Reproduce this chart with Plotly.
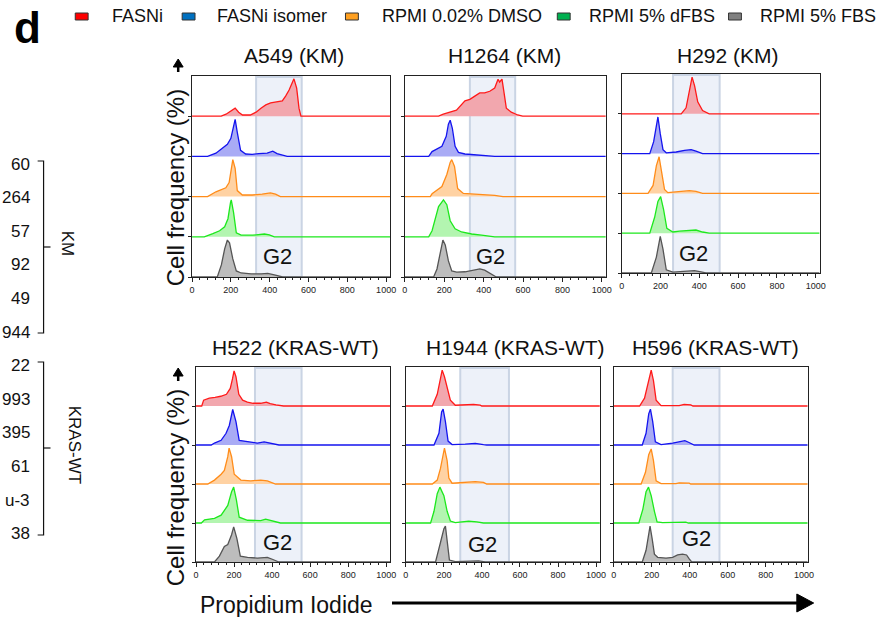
import plotly.graph_objects as go

W, H = 884, 617

# ---------------- data ----------------
conditions = ["FASNi", "FASNi isomer", "RPMI 0.02% DMSO", "RPMI 5% dFBS", "RPMI 5% FBS"]
line_colors = ["#ff1a1a", "#1414ee", "#ff8c1a", "#1de81d", "#555555"]
fill_colors = ["#f2a7ae", "#a9abf5", "#ffd2a3", "#b3f5b0", "#bdbdbd"]
legend_colors = ["#ff0000", "#0070c0", "#ffa020", "#00b050", "#808080"]
panel_titles = ["A549 (KM)", "H1264 (KM)", "H292 (KM)",
                "H522 (KRAS-WT)", "H1944 (KRAS-WT)", "H596 (KRAS-WT)"]
x_ticks = [0, 200, 400, 600, 800, 1000]
g2_gates = [(330, 565), (330, 560), (265, 505), (310, 555), (286, 542), (310, 556)]
g2_label_pos = [(441, 0.5), (437, 0.52), (368, 0.48), (428, 0.49), (402, 0.45), (435, 0.59)]
left_labels = ["60", "264", "57", "92", "49", "944", "22", "993", "395", "61", "u-3", "38"]
group_labels = ["KM", "KRAS-WT"]

# histogram curves: (PI intensity, relative cell frequency)
A549_FASNi = ([150, 175, 200, 222, 240, 260, 300, 330, 355, 380, 405, 430, 465, 482, 500, 515, 525, 539, 551, 561],
              [0, 0.05, 0.12, 0.2, 0.1, 0.03, 0.03, 0.1, 0.2, 0.28, 0.33, 0.35, 0.38, 0.5, 0.65, 0.82, 0.93, 0.7, 0.2, 0])
A549_isomer = ([80, 123, 157, 182, 200, 210, 217, 222, 233, 250, 276, 310, 344, 387, 416, 438, 490],
               [0, 0.08, 0.2, 0.3, 0.45, 0.65, 0.85, 0.92, 0.6, 0.15, 0.06, 0.05, 0.07, 0.08, 0.13, 0.07, 0])
A549_DMSO = ([80, 123, 149, 174, 191, 203, 210, 222, 233, 259, 310, 361, 404, 430, 455],
             [0, 0.12, 0.18, 0.22, 0.35, 0.75, 0.92, 0.7, 0.15, 0.04, 0.04, 0.06, 0.09, 0.06, 0])
A549_dFBS = ([63, 107, 142, 168, 185, 198, 202, 214, 228, 253, 313, 373, 398, 424],
             [0, 0.08, 0.15, 0.25, 0.45, 0.85, 0.92, 0.6, 0.1, 0.04, 0.04, 0.07, 0.05, 0])
A549_FBS = ([130, 151, 168, 182, 193, 210, 228, 253, 304, 356, 390, 424, 467],
            [0, 0.3, 0.7, 0.92, 0.85, 0.45, 0.15, 0.1, 0.08, 0.08, 0.09, 0.05, 0])

H1264_FASNi = ([171, 195, 228, 262, 305, 330, 355, 380, 405, 431, 456, 473, 481, 493, 503, 515, 540, 573, 598],
               [0, 0.05, 0.1, 0.15, 0.38, 0.42, 0.5, 0.58, 0.58, 0.62, 0.7, 0.92, 0.85, 0.92, 0.6, 0.2, 0.1, 0.03, 0])
H1264_isomer = ([121, 138, 163, 188, 210, 221, 230, 241, 255, 272, 305, 355, 405, 456],
                [0, 0.12, 0.18, 0.25, 0.5, 0.8, 0.9, 0.7, 0.25, 0.1, 0.06, 0.04, 0.02, 0])
H1264_DMSO = ([129, 138, 163, 188, 213, 230, 238, 252, 268, 297, 355, 405, 456, 498],
              [0, 0.07, 0.15, 0.25, 0.55, 0.85, 0.92, 0.75, 0.2, 0.08, 0.06, 0.05, 0.03, 0])
H1264_dFBS = ([121, 138, 154, 171, 196, 213, 230, 255, 288, 339, 389, 456],
              [0, 0.15, 0.45, 0.75, 0.92, 0.8, 0.4, 0.2, 0.12, 0.07, 0.04, 0])
H1264_FBS = ([146, 163, 180, 193, 205, 221, 238, 263, 305, 347, 381, 405, 439, 464],
             [0, 0.2, 0.6, 0.92, 0.8, 0.4, 0.15, 0.12, 0.13, 0.17, 0.2, 0.17, 0.06, 0])

H292_FASNi = ([307, 332, 349, 363, 376, 392, 417, 451],
              [0, 0.15, 0.55, 0.92, 0.7, 0.3, 0.08, 0])
H292_isomer = ([145, 165, 179, 187, 199, 213, 230, 281, 324, 358, 383, 417],
               [0, 0.3, 0.75, 0.92, 0.5, 0.1, 0.02, 0.04, 0.08, 0.1, 0.06, 0])
H292_DMSO = ([136, 162, 179, 193, 204, 221, 238, 298, 349, 383, 417],
             [0, 0.2, 0.7, 0.92, 0.6, 0.1, 0.02, 0.05, 0.07, 0.05, 0])
H292_dFBS = ([145, 170, 187, 201, 216, 233, 264, 298, 341, 383, 417, 451],
             [0, 0.4, 0.8, 0.92, 0.6, 0.12, 0.03, 0.05, 0.06, 0.08, 0.03, 0])
H292_FBS = ([153, 179, 193, 199, 213, 230, 264, 315, 375, 409, 434],
            [0, 0.4, 0.85, 0.92, 0.6, 0.08, 0.02, 0.04, 0.06, 0.03, 0])

H522_FASNi = ([30, 40, 70, 100, 130, 160, 180, 192, 200, 210, 225, 245, 270, 300, 340, 370, 390, 420, 460],
              [0, 0.15, 0.2, 0.22, 0.25, 0.3, 0.45, 0.7, 0.9, 0.75, 0.3, 0.15, 0.1, 0.07, 0.07, 0.1, 0.06, 0.03, 0])
H522_isomer = ([80, 97, 132, 158, 175, 193, 210, 227, 271, 323, 358, 392, 436],
               [0, 0.05, 0.12, 0.3, 0.5, 0.91, 0.6, 0.12, 0.08, 0.05, 0.08, 0.05, 0])
H522_DMSO = ([62, 97, 132, 149, 167, 174, 187, 201, 236, 288, 340, 375, 418],
             [0, 0.1, 0.25, 0.35, 0.7, 0.92, 0.7, 0.25, 0.1, 0.08, 0.1, 0.08, 0])
H522_dFBS = ([28, 45, 97, 132, 167, 187, 198, 212, 227, 271, 340, 366, 401, 444],
             [0, 0.08, 0.12, 0.2, 0.45, 0.8, 0.92, 0.6, 0.15, 0.07, 0.06, 0.1, 0.05, 0])
H522_FBS = ([97, 123, 149, 167, 187, 198, 215, 233, 271, 323, 375, 401, 436],
            [0, 0.15, 0.4, 0.45, 0.7, 0.9, 0.6, 0.15, 0.12, 0.1, 0.12, 0.07, 0])

H1944_FASNi = ([139, 165, 182, 191, 203, 217, 234, 260, 312, 356, 391, 399],
               [0, 0.3, 0.75, 0.92, 0.75, 0.45, 0.15, 0.02, 0.03, 0.04, 0.02, 0])
H1944_isomer = ([148, 174, 188, 196, 208, 222, 243, 312, 365, 408, 425],
                [0, 0.3, 0.85, 0.92, 0.6, 0.1, 0.01, 0.02, 0.04, 0.01, 0])
H1944_DMSO = ([139, 165, 182, 196, 203, 217, 226, 243, 286, 365, 408, 425],
              [0, 0.1, 0.4, 0.75, 0.92, 0.6, 0.15, 0.02, 0.03, 0.06, 0.04, 0])
H1944_dFBS = ([130, 148, 165, 179, 200, 217, 234, 260, 295, 330, 373, 408],
              [0, 0.3, 0.75, 0.92, 0.7, 0.3, 0.05, 0.01, 0.03, 0.05, 0.03, 0])
H1944_FBS = ([156, 182, 200, 208, 220, 229, 260, 330, 382, 408, 417],
             [0, 0.5, 0.85, 0.92, 0.5, 0.05, 0.01, 0.03, 0.03, 0.01, 0])

H596_FASNi = ([136, 162, 184, 197, 209, 223, 249, 344, 370, 405, 417],
              [0, 0.2, 0.7, 0.92, 0.65, 0.15, 0.01, 0.01, 0.04, 0.03, 0])
H596_isomer = ([150, 170, 184, 193, 205, 219, 249, 310, 353, 374, 393, 423],
               [0, 0.3, 0.8, 0.92, 0.6, 0.08, 0.01, 0.05, 0.08, 0.11, 0.07, 0])
H596_DMSO = ([144, 167, 184, 197, 209, 223, 249, 327, 344, 397, 405],
             [0, 0.3, 0.75, 0.9, 0.6, 0.08, 0.01, 0.01, 0.03, 0.02, 0])
H596_dFBS = ([132, 153, 170, 183, 197, 214, 228, 257, 310, 379, 393],
             [0, 0.35, 0.8, 0.92, 0.7, 0.3, 0.03, 0.01, 0.02, 0.02, 0])
H596_FBS = ([150, 170, 184, 191, 202, 214, 231, 275, 310, 336, 362, 383, 397, 410],
            [0, 0.3, 0.8, 0.92, 0.6, 0.2, 0.12, 0.1, 0.12, 0.18, 0.2, 0.18, 0.08, 0])

panels = [
    [A549_FASNi, A549_isomer, A549_DMSO, A549_dFBS, A549_FBS],
    [H1264_FASNi, H1264_isomer, H1264_DMSO, H1264_dFBS, H1264_FBS],
    [H292_FASNi, H292_isomer, H292_DMSO, H292_dFBS, H292_FBS],
    [H522_FASNi, H522_isomer, H522_DMSO, H522_dFBS, H522_FBS],
    [H1944_FASNi, H1944_isomer, H1944_DMSO, H1944_dFBS, H1944_FBS],
    [H596_FASNi, H596_isomer, H596_DMSO, H596_dFBS, H596_FBS],
]

# ---------------- layout helpers ----------------
FONT = "Liberation Sans, Arial, sans-serif"
XMAX = 1020
frames = [(191, 391, 76, 277), (406, 609, 76, 277), (625, 825, 74, 273),
          (195, 391, 367, 562), (407, 603, 367, 562), (617, 813, 367, 562)]
title_pos = [(294, 55), (507, 55), (732, 55), (296, 347), (518, 348), (720, 348)]


def px(x):
    return x / W


def py(y):
    return 1 - y / H


def note(text, x, y, size, xanchor="center", angle=0, ref=("paper", "paper"), color="#111"):
    return dict(text=text, x=x, y=y, xref=ref[0], yref=ref[1], xanchor=xanchor,
                yanchor="middle", textangle=angle, showarrow=False,
                font=dict(family=FONT, size=size, color=color))


fig = go.Figure()
shapes = []
annotations = []

for i, (curves, frame) in enumerate(zip(panels, frames)):
    s = "" if i == 0 else str(i + 1)
    for k, (xs, hs) in enumerate(curves):
        base = 4 - k
        X = [0] + list(xs) + [XMAX]
        Y = [base] + [base + h for h in hs] + [base]
        fig.add_trace(go.Scatter(
            x=X, y=Y, mode="lines",
            line=dict(color=line_colors[k], width=1.3),
            fill="toself", fillcolor=fill_colors[k],
            xaxis="x" + s, yaxis="y" + s,
            showlegend=False, hoverinfo="skip"))
    l, r, t, b = frame
    fig.layout["xaxis" + s] = dict(
        domain=[px(l), px(r)], range=[0, XMAX], anchor="y" + s,
        tickvals=x_ticks, ticks="outside", ticklen=4, tickwidth=1, tickcolor="#222",
        minor=dict(dtick=40, ticks="outside", ticklen=2, tickcolor="#222", showgrid=False),
        showline=True, linecolor="#222", linewidth=1, mirror=True,
        showgrid=False, zeroline=False,
        tickfont=dict(family=FONT, size=9, color="#222"))
    fig.layout["yaxis" + s] = dict(
        domain=[py(b), py(t)], range=[0, 5], anchor="x" + s,
        tickvals=[0, 1, 2, 3, 4], ticks="outside", ticklen=3, tickcolor="#222",
        showticklabels=False, showline=True, linecolor="#222", linewidth=1, mirror=True,
        showgrid=False, zeroline=False)
    # G2 gate
    g0, g1 = g2_gates[i]
    shapes.append(dict(type="rect", xref="x" + s, yref="y" + s + " domain",
                       x0=g0, x1=g1, y0=0, y1=0.995,
                       fillcolor="#edf1f9", line=dict(color="#cad4e4", width=2),
                       layer="below"))
    gx, gy = g2_label_pos[i]
    annotations.append(note("G2", gx, gy, 22, ref=("x" + s, "y" + s)))
    tx, ty = title_pos[i]
    annotations.append(note(panel_titles[i], px(tx), py(ty), 21))

# y-axis labels and arrows
for cy, tip in [(188, 59), (488, 368)]:
    annotations.append(note("Cell frequency (%)", px(174), py(cy), 24, angle=-90))
    shapes.append(dict(type="path", xref="paper", yref="paper",
                       path=f"M {px(177)} {py(tip)} L {px(172)} {py(tip + 8)} L {px(182)} {py(tip + 8)} Z",
                       fillcolor="#000", line=dict(color="#000", width=1)))
    shapes.append(dict(type="line", xref="paper", yref="paper",
                       x0=px(177), x1=px(177), y0=py(tip + 7), y1=py(tip + 13),
                       line=dict(color="#000", width=2.5)))

# x label + arrow
annotations.append(note("Propidium Iodide", px(286), py(605), 23))
shapes.append(dict(type="line", xref="paper", yref="paper",
                   x0=px(393), x1=px(804), y0=py(603), y1=py(603),
                   line=dict(color="#000", width=3)))
shapes.append(dict(type="path", xref="paper", yref="paper",
                   path=f"M {px(819)} {py(603)} L {px(802)} {py(594)} L {px(802)} {py(612)} Z",
                   fillcolor="#000", line=dict(color="#000", width=1)))

# panel letter
annotations.append(note("<b>d</b>", px(9), py(27), 44, xanchor="left", color="#000"))

# legend
leg_marker_x = [73, 181, 346, 560, 733]
leg_text_x = [108, 214, 381, 590, 763]
for k, name in enumerate(conditions):
    mx = leg_marker_x[k]
    shapes.append(dict(type="rect", xref="paper", yref="paper",
                       x0=px(mx), x1=px(mx + 13), y0=py(20), y1=py(13),
                       fillcolor=legend_colors[k], line=dict(color="#333", width=1)))
    annotations.append(note(name, px(leg_text_x[k]), py(16), 18, xanchor="left"))

# cut-off row labels on the left
for j, lab in enumerate(left_labels):
    yy = 164 + 33.6 * j
    annotations.append(note(lab, px(29), py(yy), 17, xanchor="right"))

# brackets
for (top, bot, mid), lab, lx in [((161, 333, 247), group_labels[0], 66),
                                  ((362, 535, 448), group_labels[1], 72)]:
    shapes.append(dict(type="path", xref="paper", yref="paper",
                       path=(f"M {px(35)} {py(top)} L {px(41)} {py(top)} L {px(41)} {py(bot)} "
                             f"L {px(35)} {py(bot)}"),
                       line=dict(color="#111", width=1.2)))
    shapes.append(dict(type="line", xref="paper", yref="paper",
                       x0=px(41), x1=px(48), y0=py(mid), y1=py(mid),
                       line=dict(color="#111", width=1.2)))
    annotations.append(note(lab, px(lx), py(mid - 3), 17, angle=90))

fig.update_layout(
    width=W, height=H, autosize=False,
    margin=dict(l=0, r=0, t=0, b=0),
    paper_bgcolor="white", plot_bgcolor="white",
    shapes=shapes, annotations=annotations,
    showlegend=False,
    font=dict(family=FONT),
)

fig.write_html("out.html")
